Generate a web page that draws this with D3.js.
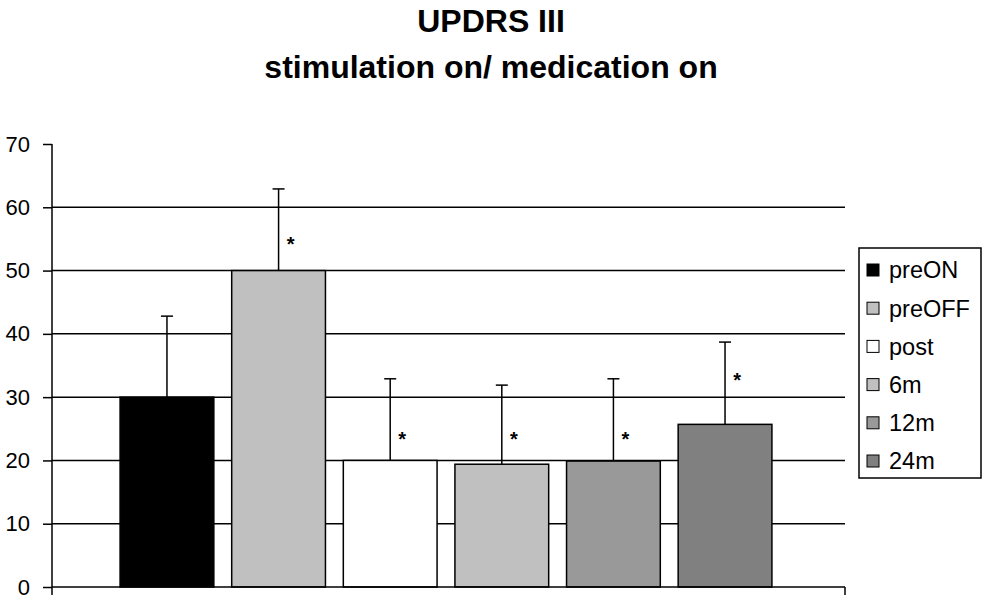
<!DOCTYPE html>
<html>
<head>
<meta charset="utf-8">
<script src="https://cdn.jsdelivr.net/npm/d3@7"></script>
<style>
  html, body { margin: 0; padding: 0; background: #fff; }
  svg { display: block; font-family: "Liberation Sans", Arial, sans-serif; }
</style>
</head>
<body>
<svg id="chart" width="985" height="605"></svg>
<script>
// ---- data ----
const titleLines = ["UPDRS III", "stimulation on/ medication on"];
const series = ["preON", "preOFF", "post", "6m", "12m", "24m"];
const means = [30, 50, 20, 19.4, 19.9, 25.7];
const errorTops = [42.8, 62.9, 32.9, 31.9, 32.9, 38.7];
const starLevels = [null, 55, 24.3, 24.3, 24.3, 33.5];
const yTicks = [0, 10, 20, 30, 40, 50, 60, 70];
const fills = ["#000000", "#c0c0c0", "#ffffff", "#c0c0c0", "#999999", "#808080"];

(function () {
// ---- layout ----
const svg = d3.select("#chart");
const pLeft = 52, pRight = 845, pTop = 144, pBottom = 587;

const y = d3.scaleLinear().domain([0, 70]).range([pBottom, pTop]);
const x = d3.scaleBand().domain(series).range([pLeft, pRight - 5])
  .paddingInner(0.16).paddingOuter(0.61);

// title
svg.append("g").selectAll("text").data(titleLines).join("text")
  .attr("x", 491)
  .attr("y", (d, i) => i === 0 ? 32 : 78)
  .attr("text-anchor", "middle")
  .attr("font-weight", "bold")
  .attr("font-size", 32)
  .attr("fill", "#000")
  .text(d => d);

// gridlines
svg.append("g").selectAll("line").data(yTicks.filter(t => t > 0 && t < 70)).join("line")
  .attr("x1", pLeft).attr("x2", pRight)
  .attr("y1", d => y(d)).attr("y2", d => y(d))
  .attr("stroke", "#000").attr("stroke-width", 1.5);

// bars
svg.append("g").selectAll("rect").data(series).join("rect")
  .attr("x", d => x(d))
  .attr("width", x.bandwidth())
  .attr("y", (d, i) => y(means[i]))
  .attr("height", (d, i) => y(0) - y(means[i]))
  .attr("fill", (d, i) => fills[i])
  .attr("stroke", "#000").attr("stroke-width", 1.5);

// error bars
const eg = svg.append("g").attr("stroke", "#000").attr("stroke-width", 1.5);
series.forEach((s, i) => {
  const cx = x(s) + x.bandwidth() / 2;
  eg.append("line").attr("x1", cx).attr("x2", cx)
    .attr("y1", y(means[i])).attr("y2", y(errorTops[i]));
  eg.append("line").attr("x1", cx - 6).attr("x2", cx + 6)
    .attr("y1", y(errorTops[i])).attr("y2", y(errorTops[i]));
});

// asterisks
svg.append("g").selectAll("text").data(series.filter((s, i) => starLevels[i] !== null)).join("text")
  .attr("x", d => x(d) + x.bandwidth() / 2 + 12)
  .attr("y", d => y(starLevels[series.indexOf(d)]))
  .attr("dy", "0.62em")
  .attr("text-anchor", "middle")
  .attr("font-size", 20)
  .attr("font-weight", "bold")
  .attr("fill", "#000")
  .text("*");

// y axis
const yAxis = d3.axisLeft(y).tickValues(yTicks).tickSize(9).tickPadding(13).tickSizeOuter(0);
const ya = svg.append("g").attr("transform", `translate(${pLeft},0)`).call(yAxis);
ya.select(".domain").remove();
ya.selectAll(".tick line").attr("stroke", "#000").attr("stroke-width", 1.5);
ya.selectAll(".tick text").attr("font-size", 22).attr("fill", "#000")
  .attr("font-family", "'Liberation Sans', Arial, sans-serif");
svg.append("line").attr("x1", pLeft).attr("x2", pLeft)
  .attr("y1", y(70)).attr("y2", pBottom + 8)
  .attr("stroke", "#000").attr("stroke-width", 1.5);

// x axis
svg.append("line").attr("x1", pLeft).attr("x2", pRight)
  .attr("y1", pBottom).attr("y2", pBottom)
  .attr("stroke", "#000").attr("stroke-width", 1.5);
svg.append("line").attr("x1", pRight).attr("x2", pRight)
  .attr("y1", pBottom).attr("y2", pBottom + 8)
  .attr("stroke", "#000").attr("stroke-width", 1.5);

// legend
const lg = svg.append("g");
lg.append("rect").attr("x", 859).attr("y", 248).attr("width", 122).attr("height", 230)
  .attr("fill", "#fff").attr("stroke", "#000").attr("stroke-width", 1.5);
const rows = lg.selectAll("g.row").data(series).join("g").attr("class", "row")
  .attr("transform", (d, i) => `translate(867, ${270 + i * 38.2})`);
rows.append("rect").attr("x", 0).attr("y", -6).attr("width", 12).attr("height", 12)
  .attr("fill", (d, i) => fills[i]).attr("stroke", "#000").attr("stroke-width", 1);
rows.append("text").attr("x", 22).attr("y", 0).attr("dy", "0.36em")
  .attr("font-size", 23.5).attr("fill", "#000").text(d => d);
})();
</script>
</body>
</html>
